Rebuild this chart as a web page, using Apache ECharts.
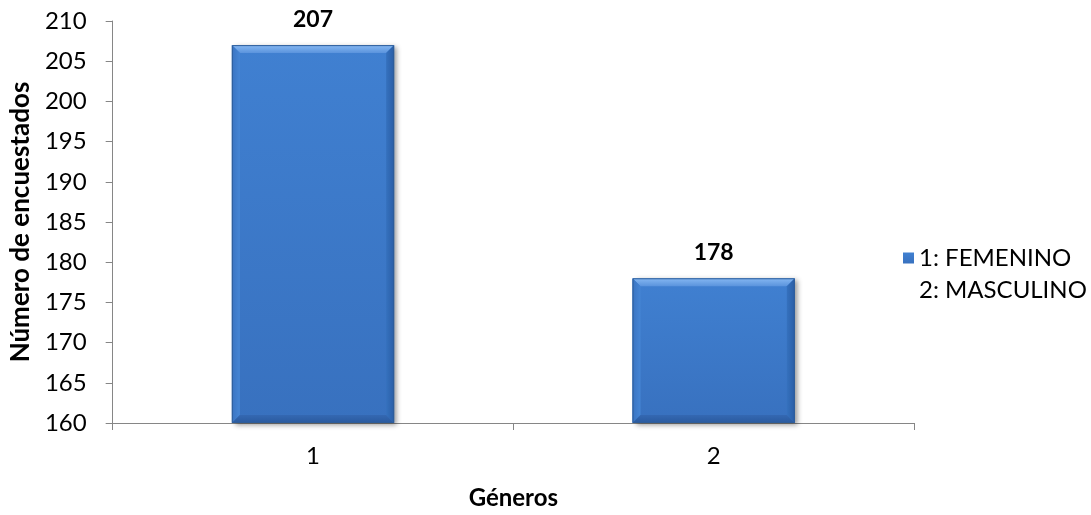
<!DOCTYPE html>
<html>
<head>
<meta charset="utf-8">
<script src="https://cdn.jsdelivr.net/npm/echarts@6/dist/echarts.min.js"></script>
<style>
  html, body { margin: 0; padding: 0; background: #ffffff; }
  #chart { width: 1091px; height: 515px; }
</style>
</head>
<body>
<div id="chart"></div>
<script>
// Survey respondents by gender
const categories = ['1', '2'];
const respondents = [207, 178];
const legendLabel = '1: FEMENINO\n2: MASCULINO';
const yMin = 160, yMax = 210, yStep = 5;

const FONT = 'Lato, "Liberation Sans", sans-serif';
const AXIS_GRAY = '#868686';
const BAR_RATIO = 0.405;   // bar width as a share of the category band
const BEVEL = 8;           // bevel band thickness in px

const barFill = {
  type: 'linear', x: 0, y: 0, x2: 0, y2: 1,
  colorStops: [
    { offset: 0, color: '#4080D1' },
    { offset: 1, color: '#3871BF' }
  ]
};

// Bevelled face drawn over each bar, sized from the value axis
function renderBevel(params, api) {
  const idx = api.value(0);
  const val = api.value(1);
  const topPt = api.coord([idx, val]);
  const basePt = api.coord([idx, yMin]);
  const w = api.size([1, 0])[0] * BAR_RATIO;
  const x0 = topPt[0] - w / 2, x1 = topPt[0] + w / 2;
  const y0 = topPt[1], y1 = basePt[1];
  const b = BEVEL;
  const poly = (pts, fill) => ({ type: 'polygon', silent: true, shape: { points: pts }, style: { fill: fill } });
  return {
    type: 'group',
    children: [
      poly([[x0, y0], [x1, y0], [x1 - b, y0 + b], [x0 + b, y0 + b]], {
        type: 'linear', x: 0, y: 0, x2: 0, y2: 1,
        colorStops: [{ offset: 0, color: '#86B8F2' }, { offset: 1, color: '#5A93DD' }]
      }),
      poly([[x0, y0], [x0 + b, y0 + b], [x0 + b, y1 - b], [x0, y1]], {
        type: 'linear', x: 0, y: 0, x2: 1, y2: 0,
        colorStops: [{ offset: 0, color: '#3A74C2' }, { offset: 1, color: '#4585D4' }]
      }),
      poly([[x1, y0], [x1 - b, y0 + b], [x1 - b, y1 - b], [x1, y1]], {
        type: 'linear', x: 0, y: 0, x2: 1, y2: 0,
        colorStops: [{ offset: 0, color: '#3571BE' }, { offset: 1, color: '#2A5EA6' }]
      }),
      poly([[x0, y1], [x0 + b, y1 - b], [x1 - b, y1 - b], [x1, y1]], {
        type: 'linear', x: 0, y: 0, x2: 0, y2: 1,
        colorStops: [{ offset: 0, color: '#3468B2' }, { offset: 1, color: '#2A5A9E' }]
      }),
      {
        type: 'rect', silent: true,
        shape: { x: x0 + 0.5, y: y0 + 0.5, width: w - 1, height: y1 - y0 - 1 },
        style: { fill: 'none', stroke: '#2E5D99', lineWidth: 1 }
      }
    ]
  };
}

const chart = echarts.init(document.getElementById('chart'), null, { renderer: 'canvas' });
chart.setOption({
  animation: false,
  backgroundColor: '#ffffff',
  textStyle: { fontFamily: FONT, color: '#000' },
  grid: { left: 110, right: 177, top: 21, bottom: 88, containLabel: false },
  legend: {
    show: true,
    left: 903,
    top: 210,
    padding: 0,
    orient: 'vertical',
    itemWidth: 11,
    itemHeight: 11,
    icon: 'rect',
    // an empty first line keeps the swatch level with "1: FEMENINO"
    formatter: (name) => '\n' + name,
    textStyle: { fontFamily: FONT, fontSize: 24, color: '#000', lineHeight: 32 },
    data: [{ name: legendLabel }]
  },
  xAxis: {
    type: 'category',
    data: categories,
    boundaryGap: true,
    name: 'Géneros',
    nameLocation: 'middle',
    nameGap: 63,
    nameTextStyle: { fontFamily: FONT, fontSize: 24, fontWeight: 'bold', color: '#000' },
    axisLine: { show: true, lineStyle: { color: AXIS_GRAY, width: 1 } },
    axisTick: { show: true, alignWithLabel: false, length: 7, lineStyle: { color: AXIS_GRAY } },
    axisLabel: { fontFamily: FONT, fontSize: 24, color: '#000', margin: 21 },
    splitLine: { show: false }
  },
  yAxis: {
    type: 'value',
    min: yMin,
    max: yMax,
    interval: yStep,
    name: 'Número de encuestados',
    nameLocation: 'middle',
    nameGap: 73,
    nameRotate: 90,
    nameTextStyle: { fontFamily: FONT, fontSize: 26, fontWeight: 'bold', color: '#000' },
    axisLine: { show: true, lineStyle: { color: AXIS_GRAY, width: 1 } },
    axisTick: { show: true, length: 7, lineStyle: { color: AXIS_GRAY } },
    axisLabel: { fontFamily: FONT, fontSize: 24, color: '#000', margin: 26 },
    splitLine: { show: false }
  },
  series: [
    {
      name: legendLabel,
      type: 'bar',
      data: respondents,
      barWidth: (BAR_RATIO * 100) + '%',
      itemStyle: {
        color: barFill,
        shadowColor: 'rgba(0,0,0,0.4)',
        shadowBlur: 5,
        shadowOffsetX: 3,
        shadowOffsetY: 2
      },
      label: {
        show: true,
        position: 'top',
        distance: 14,
        fontFamily: FONT,
        fontSize: 23,
        fontWeight: 'bold',
        color: '#000'
      },
      z: 2
    },
    {
      name: 'bevel',
      type: 'custom',
      renderItem: renderBevel,
      data: respondents.map((v, i) => [i, v]),
      encode: { x: 0, y: 1 },
      silent: true,
      z: 3
    }
  ]
});
</script>
</body>
</html>
